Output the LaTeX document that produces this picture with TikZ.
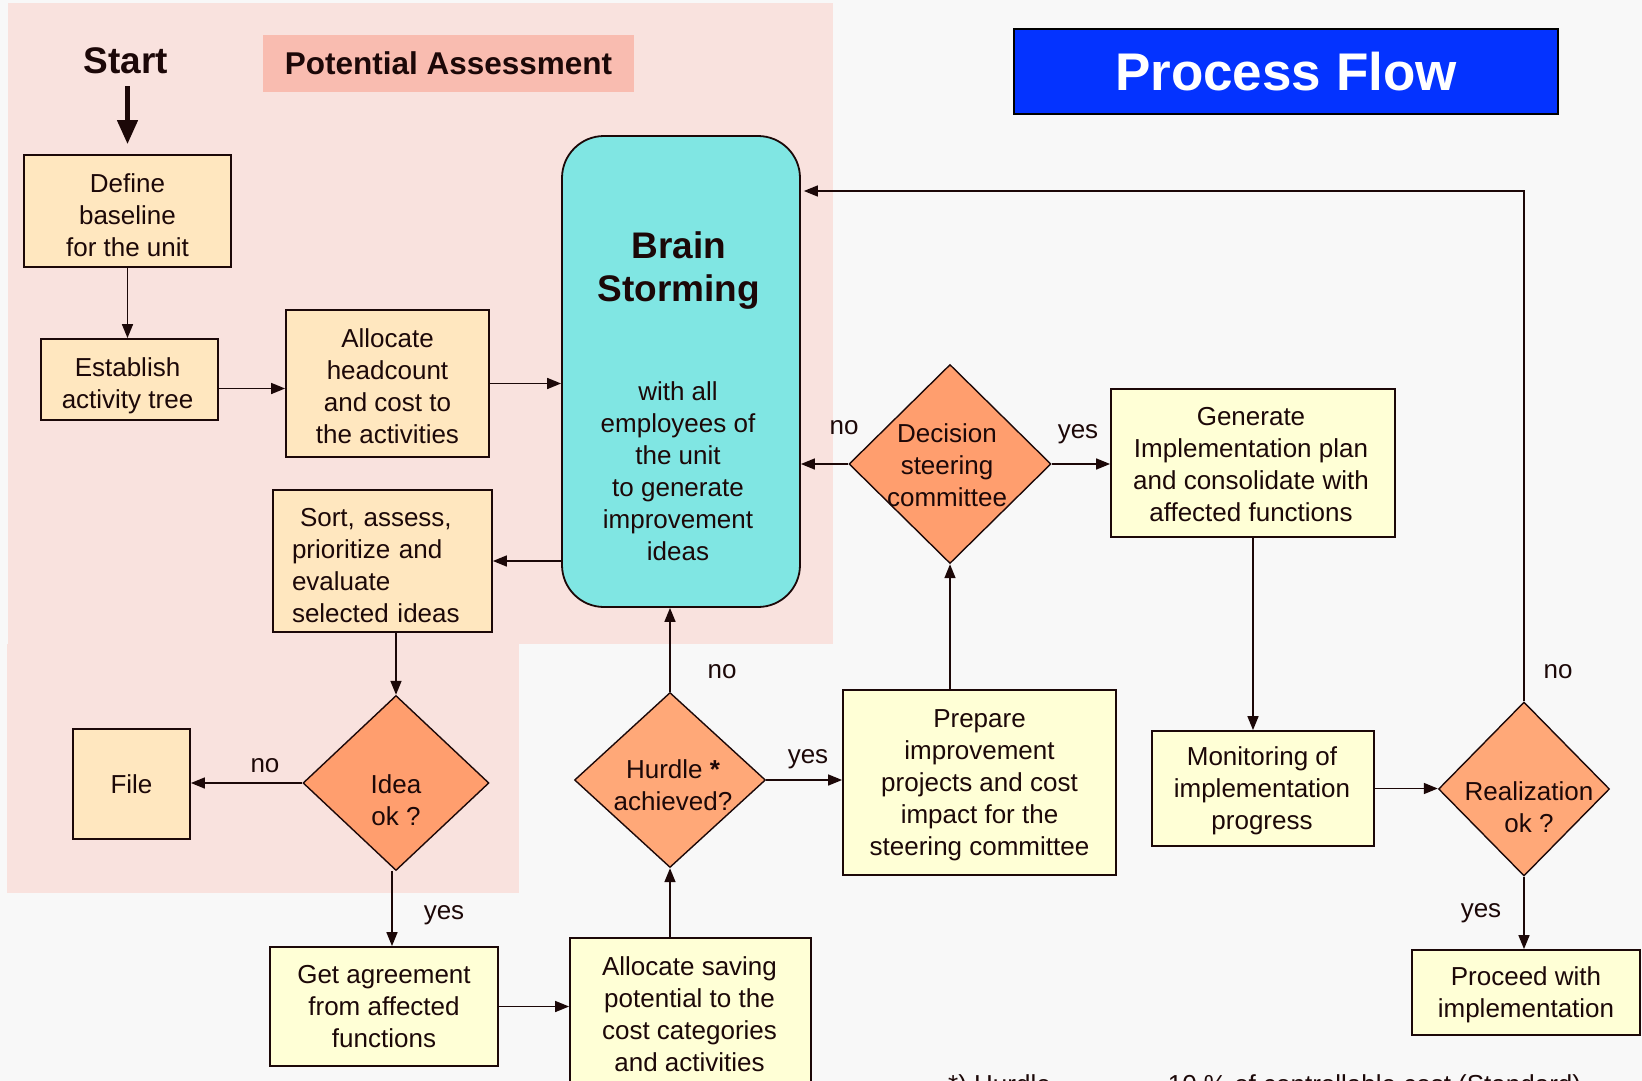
\documentclass[tikz,border=0pt]{standalone}
\usepackage{fontspec}
\setmainfont{Liberation Sans}
\usetikzlibrary{shapes.geometric,arrows.meta}
\definecolor{bgc}{HTML}{F8F8F8}
\definecolor{pinkbg}{HTML}{F9E2DE}
\definecolor{salmon}{HTML}{F9BCB0}
\definecolor{peach}{HTML}{FFE7BF}
\definecolor{lyellow}{HTML}{FFFFD6}
\definecolor{orgA}{HTML}{FF9E6E}
\definecolor{orgB}{HTML}{FFA878}
\definecolor{cyanb}{HTML}{80E6E3}
\definecolor{blueb}{HTML}{0433FF}
\definecolor{ink}{HTML}{1C0808}
\newcommand\myfont{\fontsize{26}{32}\selectfont}
\tikzset{
  boxp/.style={draw=ink, line width=1.8pt, fill=peach, inner sep=0pt, align=center, font=\myfont, text=ink},
  boxy/.style={draw=ink, line width=1.8pt, fill=lyellow, inner sep=0pt, align=center, font=\myfont, text=ink},
  dia/.style={diamond, draw=ink, line width=1.4pt, inner sep=0pt},
  txt/.style={inner sep=0pt, align=center, font=\myfont, text=ink},
  lbl/.style={inner sep=0pt, font=\myfont, text=ink},
  arr/.style={draw=ink, line width=1.6pt, -{Triangle[length=14pt,width=11pt]}},
}
\begin{document}
\begin{tikzpicture}[x=1pt,y=-1pt]
\useasboundingbox (0,0) rectangle (1642,1081);
\fill[bgc] (0,0) rectangle (1642,1081);
\fill[pinkbg] (8,3) rectangle (833,644);
\fill[pinkbg] (7,644) rectangle (519,893);

\node[fill=salmon, minimum width=371pt, minimum height=57pt, inner sep=0pt, font=\fontsize{31.5}{36}\selectfont\bfseries, text=ink] (potential) at (448.5,63.5) {Potential Assessment};
\node[fill=blueb, draw=black, line width=2.5pt, minimum width=544pt, minimum height=85pt, inner sep=0pt, font=\fontsize{53}{60}\selectfont\bfseries, text=white] (pflow) at (1286,71.5) {Process Flow};
\node[inner sep=0pt, font=\fontsize{37}{42}\selectfont\bfseries, text=ink] (start) at (126,61) {Start};

\node[boxp, minimum width=207pt, minimum height=112pt] (define) at (127.5,211) {};
\node[txt] (definet) at (127.5,215) {Define\\baseline\\for the unit};
\node[boxp, minimum width=177pt, minimum height=81pt] (establish) at (129.5,379.5) {};
\node[txt] (establisht) at (127.5,386) {Establish\\activity tree};
\node[boxp, minimum width=203pt, minimum height=147pt] (allochead) at (387.5,383.5) {};
\node[txt] (allocheadt) at (387.5,386) {Allocate\\headcount\\and cost to\\the activities};
\node[draw=ink, line width=1.8pt, fill=cyanb, rounded corners=42pt, minimum width=238pt, minimum height=471pt, inner sep=0pt] (brain) at (681,371.5) {};
\node[txt, font=\fontsize{37}{43}\selectfont\bfseries] (braint) at (679,271) {Brain\\Storming};
\node[txt] (brainb) at (678,471) {with all\\employees of\\the unit\\to generate\\improvement\\ideas};
\node[boxp, minimum width=219pt, minimum height=142pt] (sort) at (382.5,561) {};
\node[txt, align=left, text width=193pt] (sortt) at (388.5,566) {\hspace*{8pt}Sort, assess,\\prioritize and\\evaluate\\selected ideas};

\node[dia, fill=orgA, minimum width=186pt, minimum height=175pt] (idea) at (396,783) {};
\node[txt] (ideat) at (396,800) {Idea\\ok ?};
\node[boxp, minimum width=117pt, minimum height=110pt] (file) at (131.5,784) {File};
\node[boxy, minimum width=228pt, minimum height=119pt] (get) at (384,1006.5) {Get agreement\\from affected\\functions};
\node[boxy, minimum width=241pt, minimum height=160pt] (allocsave) at (690.5,1018) {};
\node[txt] (allocsavet) at (689.5,1014) {Allocate saving\\potential to the\\cost categories\\and activities};
\node[dia, fill=orgB, minimum width=191pt, minimum height=175pt] (hurdle) at (670,780) {};
\node[txt] (hurdlet) at (673,785) {Hurdle \textbf{*}\\achieved?};
\node[boxy, minimum width=273pt, minimum height=185pt] (prepare) at (979.5,782.5) {};
\node[txt] (preparet) at (979.5,785) {Prepare\\improvement\\projects and cost\\impact for the\\steering committee};
\node[dia, fill=orgA, minimum width=202pt, minimum height=199pt] (decision) at (950,464) {};
\node[txt] (decisiont) at (947,465) {Decision\\steering\\committee};
\node[boxy, minimum width=284pt, minimum height=148pt] (generate) at (1253,463) {};
\node[txt] (generatet) at (1251,465) {Generate\\Implementation plan\\and consolidate with\\affected functions};
\node[boxy, minimum width=222pt, minimum height=115pt] (monitoring) at (1263,788.5) {};
\node[txt] (monitoringt) at (1262,791) {Monitoring of\\implementation\\progress};
\node[dia, fill=orgB, minimum width=171pt, minimum height=174pt] (realization) at (1524,789) {};
\node[txt] (realizationt) at (1529,807) {Realization\\ok ?};
\node[boxy, minimum width=228pt, minimum height=85pt] (proceed) at (1526,992.5) {};
\node[txt] (proceedt) at (1526,995) {Proceed with\\implementation};

% labels
\node[lbl] (l1) at (844,428) {no};
\node[lbl] (l2) at (722,672) {no};
\node[lbl] (l3) at (265,766) {no};
\node[lbl] (l4) at (1558,672) {no};
\node[lbl] (l5) at (1078,434) {yes};
\node[lbl] (l6) at (808,759) {yes};
\node[lbl] (l7) at (444,915) {yes};
\node[lbl] (l8) at (1481,913) {yes};

\node[lbl, anchor=base west] (foot) at (948,1093) {*) Hurdle\hspace{117pt}10 \% of controllable cost (Standard)};

% connectors
\draw[draw=ink, line width=4.5pt, -{Triangle[length=24pt,width=20pt]}, shorten <=12pt, shorten >=10pt] (start.south -| define.north) -- (define.north);
\draw[arr] (define.south) -- (define.south |- establish.north);
\draw[arr] ([yshift=-9pt]establish.east) -- ([yshift=-9pt]establish.east -| allochead.west);
\draw[arr] (allochead.east) -- (allochead.east -| brain.west);
\draw[arr] (sort.east -| brain.west) -- (sort.east);
\draw[arr] (idea.north |- sort.south) -- (idea.north);
\draw[arr] (idea.west) -- (idea.west -| file.east);
\draw[arr] ([xshift=-4pt]idea.south) -- ([xshift=-4pt]idea.south |- get.north);
\draw[arr] (get.east) -- (get.east -| allocsave.west);
\draw[arr] (hurdle.south |- allocsave.north) -- (hurdle.south);
\draw[arr] (hurdle.north) -- (hurdle.north |- brain.south);
\draw[arr] (hurdle.east) -- (hurdle.east -| prepare.west);
\draw[arr] (decision.south |- prepare.north) -- (decision.south);
\draw[arr] (decision.west) -- (decision.west -| brain.east);
\draw[arr] (decision.east) -- (decision.east -| generate.west);
\draw[arr] (generate.south) -- (generate.south |- monitoring.north);
\draw[arr] (monitoring.east) -- (monitoring.east -| realization.west);
\draw[arr] (realization.south) -- (realization.south |- proceed.north);
\coordinate (loopc) at (1524,191);
\draw[arr, shorten >=3pt] (realization.north) -- (loopc) -- (loopc -| brain.east);
\end{tikzpicture}
\end{document}
